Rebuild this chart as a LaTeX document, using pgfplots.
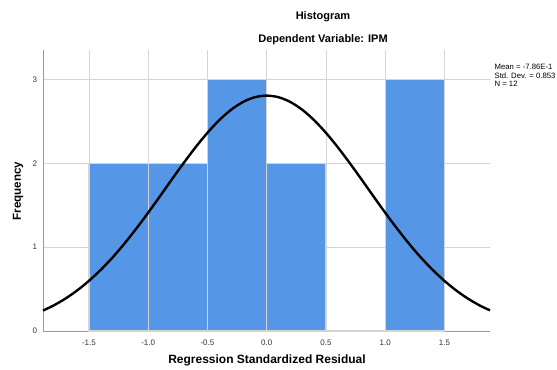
\documentclass[border=0pt]{standalone}
\usepackage{pgfplots}
\pgfplotsset{compat=1.18}
\usepackage{fontspec}
\setmainfont{Liberation Sans}
\definecolor{barblue}{HTML}{5596E6}
\definecolor{gridgray}{HTML}{D4D4D4}
\begin{document}
\begin{tikzpicture}
\begin{axis}[
  at={(0pt,0pt)}, anchor=south west,
  scale only axis, width=335.25pt, height=210.75pt,
  xmin=-1.888, xmax=1.885, ymin=0, ymax=3.35,
  axis x line*=bottom, axis y line*=left,
  axis line style={draw=gray!80, line width=0.6pt, -},
  xtick={-1.5,-1.0,-0.5,0,0.5,1.0,1.5},
  xticklabels={-1.5,-1.0,-0.5,0.0,0.5,1.0,1.5},
  ytick={0,1,2,3},
  major tick length=0pt,
  grid=major, grid style={draw=gridgray, line width=0.6pt},
  tick label style={font=\fontsize{6}{7}\selectfont, text=black!80},
  xticklabel style={yshift=-3pt},
  yticklabel style={xshift=-1pt},
  /pgf/number format/assume math mode=true,
  clip=false,
]
\addplot[ybar interval, fill=barblue, draw=gridgray, line width=0.9pt] coordinates {
  (-1.5,2) (-1.0,2) (-0.5,3) (0,2) (0.5,0) (1.0,3) (1.5,3)
};
\addplot[black, line width=1.8pt, smooth] coordinates {
  (-1.888,0.244) (-1.8,0.303) (-1.7,0.385) (-1.6,0.483) (-1.5,0.598) (-1.4,0.730)
  (-1.3,0.878) (-1.2,1.043) (-1.1,1.222) (-1.0,1.411) (-0.9,1.608) (-0.8,1.808)
  (-0.7,2.004) (-0.6,2.191) (-0.5,2.363) (-0.4,2.514) (-0.3,2.638) (-0.2,2.730)
  (-0.1,2.787) (0,2.806) (0.1,2.787) (0.2,2.730) (0.3,2.638) (0.4,2.514)
  (0.5,2.363) (0.6,2.191) (0.7,2.004) (0.8,1.808) (0.9,1.608) (1.0,1.411)
  (1.1,1.222) (1.2,1.043) (1.3,0.878) (1.4,0.730) (1.5,0.598) (1.6,0.483)
  (1.7,0.385) (1.8,0.303) (1.885,0.246)
};
\end{axis}
% titles and labels
\node[font=\bfseries\fontsize{8.25}{10}\selectfont] at (210pt,235.5pt) {Histogram};
\node[font=\bfseries\fontsize{8.25}{10}\selectfont] at (210pt,218.25pt) {Dependent Variable: IPM};
\node[font=\bfseries\fontsize{9}{11}\selectfont] at (168pt,-21.75pt) {Regression Standardized Residual};
\node[font=\bfseries\fontsize{8.7}{11}\selectfont, rotate=90] at (-18.75pt,105pt) {Frequency};
\node[font=\fontsize{5.8}{6.6}\selectfont, anchor=north west, align=left, inner sep=0pt] at (338.5pt,200.5pt)
  {Mean = -7.86E-1\\Std. Dev. = 0.853\\N = 12};
\pgfresetboundingbox
\useasboundingbox (-32.25pt,-29.25pt) rectangle (385.5pt,248.25pt);
\end{tikzpicture}
\end{document}
